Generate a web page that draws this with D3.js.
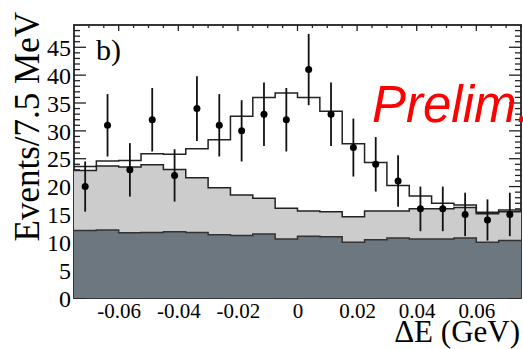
<!DOCTYPE html>
<html>
<head>
<meta charset="utf-8">
<script src="https://cdn.jsdelivr.net/npm/d3@7"></script>
<style>
  html, body { margin: 0; padding: 0; background: #ffffff; }
  #chart { width: 523px; height: 349px; overflow: hidden; }
  text { font-family: "Liberation Serif", "DejaVu Serif", serif; }
</style>
</head>
<body>
<div id="chart"></div>
<script>
// Bin edges of the Delta E histogram (20 bins of 7.5 MeV)
const binEdges = [-0.075, -0.0675, -0.06, -0.0525, -0.045, -0.0375, -0.03, -0.0225, -0.015, -0.0075,
  0, 0.0075, 0.015, 0.0225, 0.03, 0.0375, 0.045, 0.0525, 0.06, 0.0675, 0.075];

// Data points and their errors
const dataCounts = [20, 31, 23, 32, 22, 34, 31, 30, 33, 32, 41, 33, 27, 24, 21, 16, 16, 15, 14, 15];
const dataErrors = [4.5, 5.6, 4.8, 5.7, 4.7, 5.8, 5.6, 5.5, 5.7, 5.7, 6.4, 5.7, 5.2, 4.9, 4.6, 4.0, 4.0, 3.9, 3.7, 3.9];

// Stacked components (cumulative heights)
const darkBkg = [12.1, 12.2, 11.7, 11.75, 11.9, 11.75, 11.35, 11.2, 11.5, 10.6, 11.1, 11.0, 10.0, 10.45, 10.75, 10.6, 10.6, 10.75, 10.0, 10.3];
const lightBkg = [22.9, 23.7, 23.5, 23.9, 23.05, 21.6, 19.8, 18.5, 17.9, 16.1, 15.6, 15.5, 14.6, 15.6, 15.6, 16.0, 16.0, 16.25, 15.1, 15.5];
const totalFit = [23.6, 24.6, 24.7, 25.9, 25.8, 26.8, 28.4, 32.6, 36.0, 36.8, 36.0, 33.5, 27.7, 24.3, 20.2, 18.3, 17.0, 16.7, 15.4, 15.8];

// Axis ticks and labels
const xTickValues = [-0.06, -0.04, -0.02, 0, 0.02, 0.04, 0.06];
const xTickLabels = ["-0.06", "-0.04", "-0.02", "0", "0.02", "0.04", "0.06"];
const yTickValues = [0, 5, 10, 15, 20, 25, 30, 35, 40, 45];

const width = 523, height = 349;
const margin = { top: 25, right: 2, bottom: 51, left: 74 };

const svg = d3.select("#chart").append("svg")
  .attr("width", width)
  .attr("height", height);

const x = d3.scaleLinear().domain([-0.075, 0.075]).range([margin.left, width - margin.right]);
const y = d3.scaleLinear().domain([0, 49]).range([height - margin.bottom, margin.top]);

// minor tick positions
const xMinor = d3.range(-0.07, 0.0751, 0.005).filter(v => Math.abs(Math.round(v * 1000) % 20) !== 0);
const yMinor = d3.range(1, 49, 1).filter(v => v % 5 !== 0);

const axisColor = "#222";

// Frame
svg.append("rect")
  .attr("x", x(-0.075)).attr("y", y(49))
  .attr("width", x(0.075) - x(-0.075))
  .attr("height", y(0) - y(49))
  .attr("fill", "none")
  .attr("stroke", axisColor)
  .attr("stroke-width", 1.8);

// Ticks (inside the frame)
const ticks = svg.append("g").attr("stroke", axisColor).attr("stroke-width", 1.3);
xTickValues.forEach(v => {
  ticks.append("line").attr("x1", x(v)).attr("x2", x(v)).attr("y1", y(49)).attr("y2", y(49) + 6);
});
xMinor.forEach(v => {
  ticks.append("line").attr("x1", x(v)).attr("x2", x(v)).attr("y1", y(49)).attr("y2", y(49) + 3);
});
yTickValues.forEach(v => {
  ticks.append("line").attr("x1", x(-0.075)).attr("x2", x(-0.075) + 12).attr("y1", y(v)).attr("y2", y(v));
  ticks.append("line").attr("x1", x(0.075)).attr("x2", x(0.075) - 12).attr("y1", y(v)).attr("y2", y(v));
});
yMinor.forEach(v => {
  ticks.append("line").attr("x1", x(-0.075)).attr("x2", x(-0.075) + 6).attr("y1", y(v)).attr("y2", y(v));
  ticks.append("line").attr("x1", x(0.075)).attr("x2", x(0.075) - 6).attr("y1", y(v)).attr("y2", y(v));
});

// Step helpers
const stepPoints = vals => binEdges.map((e, i) => [e, vals[Math.min(i, vals.length - 1)]]);

const area = d3.area()
  .x(d => x(d[0]))
  .y0(y(0))
  .y1(d => y(d[1]))
  .curve(d3.curveStepAfter);

const line = d3.line()
  .x(d => x(d[0]))
  .y(d => y(d[1]))
  .curve(d3.curveStepAfter);

// Light gray background (cumulative)
svg.append("path")
  .datum(stepPoints(lightBkg))
  .attr("d", area)
  .attr("fill", "#cccccc");

svg.append("path")
  .datum(stepPoints(lightBkg))
  .attr("d", line)
  .attr("fill", "none")
  .attr("stroke", "#222")
  .attr("stroke-width", 1.5);

// Dark gray background
svg.append("path")
  .datum(stepPoints(darkBkg))
  .attr("d", area)
  .attr("fill", "#6c7780");

svg.append("path")
  .datum(stepPoints(darkBkg))
  .attr("d", line)
  .attr("fill", "none")
  .attr("stroke", "#333")
  .attr("stroke-width", 1.5);

// Total fit
svg.append("path")
  .datum(stepPoints(totalFit))
  .attr("d", line)
  .attr("fill", "none")
  .attr("stroke", "#222")
  .attr("stroke-width", 1.5);

// Data points with error bars
const centers = dataCounts.map((c, i) => (binEdges[i] + binEdges[i + 1]) / 2);
const pts = svg.append("g");
pts.selectAll(".err")
  .data(dataCounts)
  .enter()
  .append("line")
  .attr("class", "err")
  .attr("x1", (d, i) => x(centers[i]))
  .attr("x2", (d, i) => x(centers[i]))
  .attr("y1", (d, i) => y(d - dataErrors[i]))
  .attr("y2", (d, i) => y(d + dataErrors[i]))
  .attr("stroke", "#111")
  .attr("stroke-width", 1.8);

pts.selectAll(".dot")
  .data(dataCounts)
  .enter()
  .append("circle")
  .attr("class", "dot")
  .attr("cx", (d, i) => x(centers[i]))
  .attr("cy", d => y(d))
  .attr("r", 3.5)
  .attr("fill", "#000");

// Tick labels
svg.append("g")
  .attr("transform", `translate(0, ${y(0)})`)
  .call(d3.axisBottom(x).tickValues(xTickValues).tickSize(0).tickPadding(0)
    .tickFormat((d, i) => xTickLabels[i]))
  .call(g => g.select(".domain").remove())
  .selectAll("text")
  .attr("y", 20)
  .attr("dy", 0)
  .style("font-family", "Liberation Serif, serif")
  .style("font-size", "21px")
  .attr("fill", "#000");

svg.append("g")
  .attr("transform", `translate(${x(-0.075)}, 0)`)
  .call(d3.axisLeft(y).tickValues(yTickValues).tickSize(0).tickPadding(3))
  .call(g => g.select(".domain").remove())
  .selectAll("text")
  .attr("dy", "0.34em")
  .style("font-family", "Liberation Serif, serif")
  .style("font-size", "24px")
  .attr("fill", "#000");

// Axis titles
svg.append("text")
  .attr("transform", "translate(39, 12) rotate(-90)")
  .attr("text-anchor", "end")
  .style("font-size", "35px")
  .text("Events/7.5 MeV");

svg.append("text")
  .attr("x", 520)
  .attr("y", 342)
  .attr("text-anchor", "end")
  .style("font-size", "31px")
  .text("ΔE (GeV)");

// Panel label
svg.append("text")
  .attr("x", 96)
  .attr("y", 60)
  .style("font-size", "30px")
  .text("b)");

// Preliminary stamp (runs off the right edge, as in the original)
svg.append("text")
  .attr("x", 372)
  .attr("y", 122)
  .style("font-family", "Liberation Sans, Arial, sans-serif")
  .style("font-style", "italic")
  .style("font-size", "51px")
  .attr("fill", "#ff0000")
  .text("Prelim.");
</script>
</body>
</html>
